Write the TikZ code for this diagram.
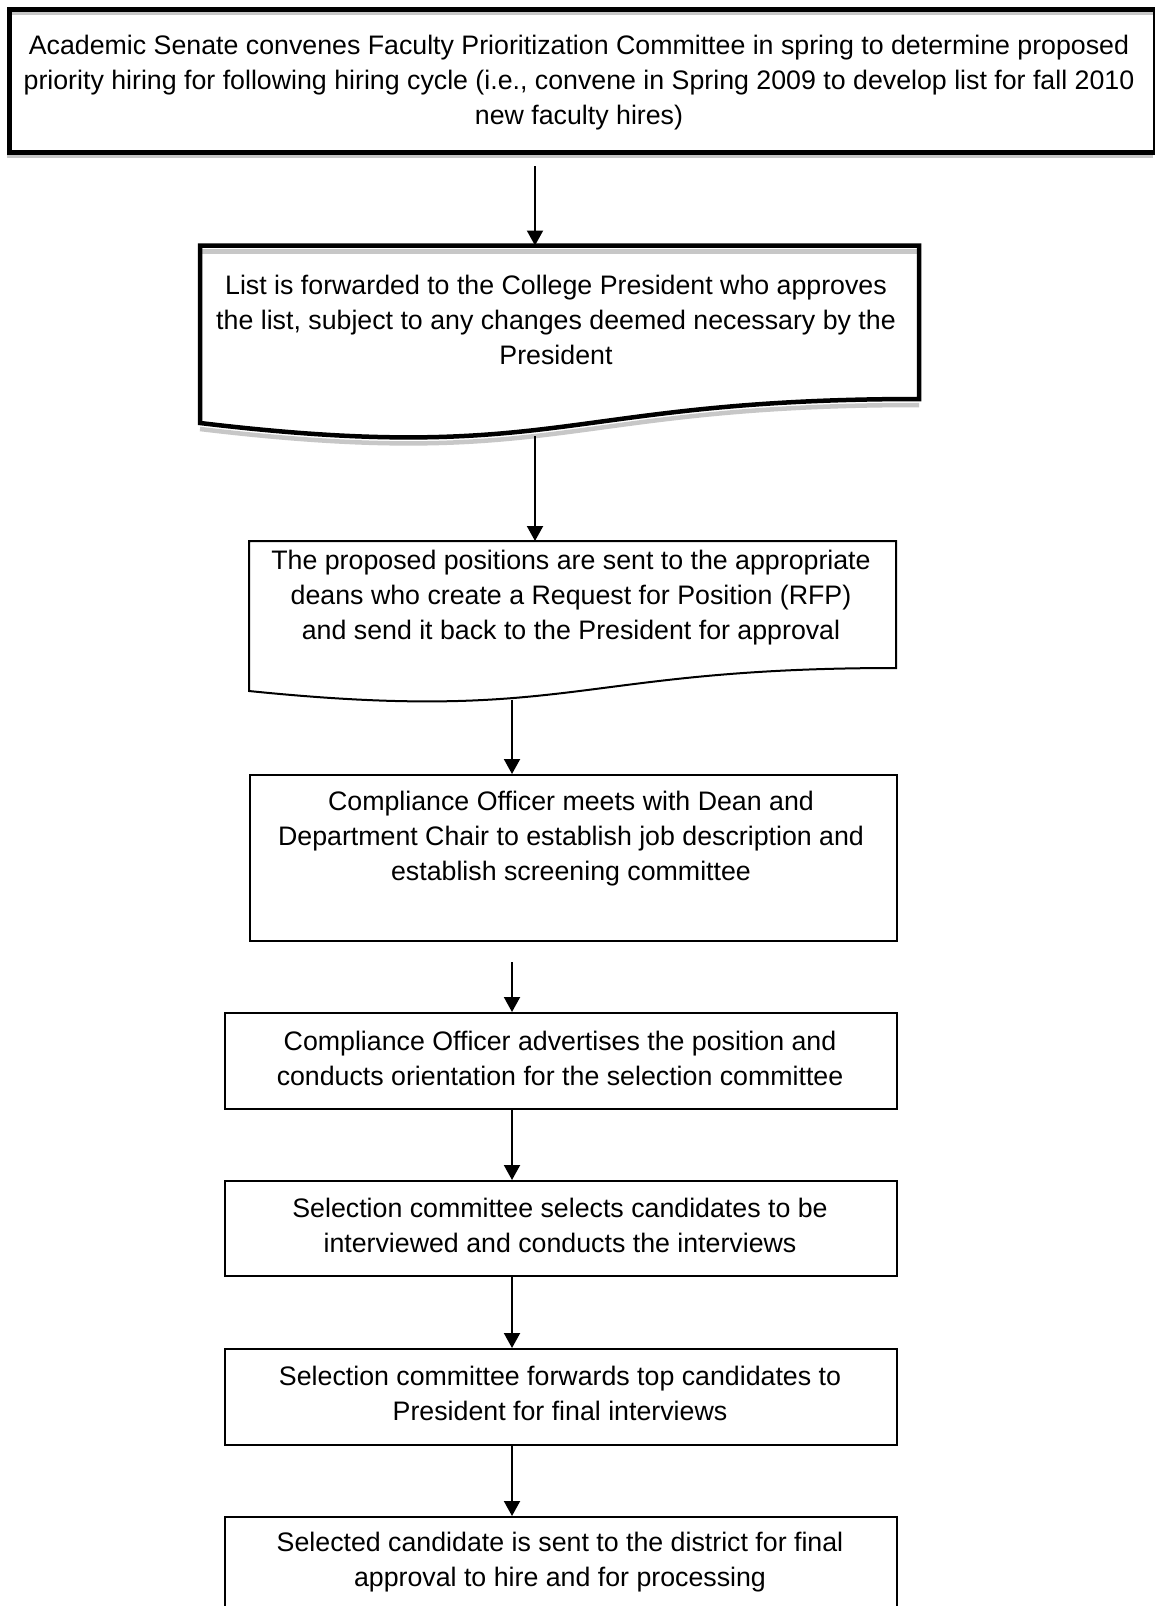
\documentclass[tikz,border=0pt]{standalone}
\usepackage{fontspec}
\setmainfont{Liberation Sans}
\usetikzlibrary{arrows.meta}

\begin{document}
\begin{tikzpicture}[x=1pt,y=-1pt,
  every node/.style={font=\fontsize{26.75}{35}\selectfont, align=center, inner sep=0pt},
  thickframe/.style={draw=black, line width=5pt, line join=miter},
  docframe/.style={draw=black, line width=4.5pt, line join=miter},
  thinframe/.style={draw=black, line width=2pt},
  shade/.style={draw=black!22, line width=4.5pt},
  flow/.style={draw=black, line width=2pt, -{Triangle[width=16pt,length=15pt]}},
  stepbox/.style={thinframe, rectangle, minimum width=#1, anchor=north west},
]
% page
\useasboundingbox (0,0) rectangle (1155,1606);
\fill[white] (0,0) rectangle (1155,1606);

% ---- top box: thick frame with a grey offset outline
\draw[shade] (6.5,12.5) -- (1152.5,12.5);
\draw[shade] (6.5,156) -- (1152.5,156);
\node[thickframe, rectangle, minimum width=1146pt, minimum height=143.5pt, anchor=north west]
  (senate) at (6.5,6.5) {};
\node (tsenate) at (579,83) {Academic Senate convenes Faculty Prioritization Committee in spring to determine proposed\\
priority hiring for following hiring cycle (i.e., convene in Spring 2009 to develop list for fall 2010\\
new faculty hires)};

% ---- second box: document shape, thick frame
\draw[shade] (200,251.5) -- (919,251.5);
\draw[shade] (919,405) .. controls (559.5,405) and (559.5,472) .. (200,429);
\draw[docframe] (200,245.5) -- (919,245.5) -- (919,399)
  .. controls (559.5,399) and (559.5,466) .. (200,423) -- cycle;
\coordinate (listtop) at (535,245.5);
\coordinate (listbot) at (535,436);
\node (tlist) at (556,320) {List is forwarded to the College President who approves\\
the list, subject to any changes deemed necessary by the\\
President};

% ---- third box: document shape, thin frame
\draw[thinframe] (249,541) -- (896,541) -- (896,668)
  .. controls (572.5,668) and (572.5,724) .. (249,691) -- cycle;
\coordinate (rfptop) at (535,541);
\coordinate (rfpbot) at (512,700);
\node (trfp) at (571,598) {The proposed positions are sent to the appropriate\\
deans who create a Request for Position (RFP)\\
and send it back to the President for approval};

% ---- rectangular steps
\node[stepbox=647pt, minimum height=166pt] (meet) at (249,774) {};
\node (tmeet) at (571,839) {Compliance Officer meets with Dean and\\
Department Chair to establish job description and\\
establish screening committee};
\coordinate (meetgap) at (512,962);

\node[stepbox=672pt, minimum height=96pt] (advert) at (224,1012) {};
\node (tadvert) at (560,1058) {Compliance Officer advertises the position and\\
conducts orientation for the selection committee};

\node[stepbox=672pt, minimum height=95pt] (select) at (224,1180) {};
\node (tselect) at (560,1225) {Selection committee selects candidates to be\\
interviewed and conducts the interviews};

\node[stepbox=672pt, minimum height=96pt] (forward) at (224,1348) {};
\node (tforward) at (560,1393) {Selection committee forwards top candidates to\\
President for final interviews};

\node[stepbox=672pt, minimum height=110pt] (district) at (224,1516) {};
\node (tdistrict) at (560,1562) {Selected candidate is sent to the district for final\\
approval to hire and for processing};

% ---- connectors
\draw[flow] (senate.south -| listtop) ++(0,11) -- (listtop);
\draw[flow] (listbot) -- (rfptop);
\draw[flow] (rfpbot) -- (meet.north -| rfpbot);
\draw[flow] (meetgap) -- (advert.north -| meetgap);
\draw[flow] (advert.south -| meetgap) -- (select.north -| meetgap);
\draw[flow] (select.south -| meetgap) -- (forward.north -| meetgap);
\draw[flow] (forward.south -| meetgap) -- (district.north -| meetgap);
\end{tikzpicture}
\end{document}
